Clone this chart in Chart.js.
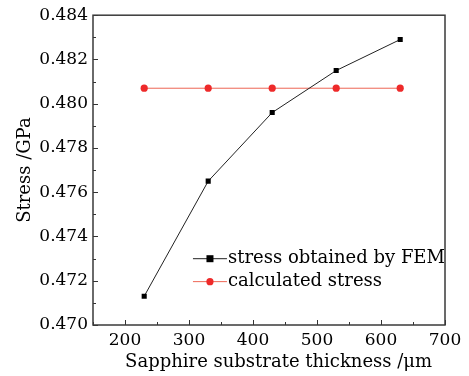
<!DOCTYPE html>
<html>
<head>
<meta charset="utf-8">
<script src="https://cdn.jsdelivr.net/npm/chart.js@4"></script>
<style>
  html, body { margin: 0; padding: 0; background: #fff; }
  #wrap { width: 469px; height: 376px; }
</style>
</head>
<body>
<div id="wrap"><canvas id="c" width="469" height="376"></canvas></div>
<script>
// --- DATA ---
const thickness = [230, 330, 430, 530, 630];
const femStress = [0.4713, 0.4765, 0.4796, 0.4815, 0.4829];
const calcStress = [0.4807, 0.4807, 0.4807, 0.4807, 0.4807];
const xTicks = [200, 300, 400, 500, 600, 700];
const yTicks = [0.470, 0.472, 0.474, 0.476, 0.478, 0.480, 0.482, 0.484];
const legendLabels = ['stress obtained by FEM', 'calculated stress'];
const xTitle = 'Sapphire substrate thickness /μm';

const FONT = '"DejaVu Serif", "Liberation Serif", serif';

// frame, inward ticks, x title and inner legend
const decor = {
  id: 'decor',
  afterDraw(chart) {
    const { ctx, chartArea: a, scales } = chart;
    const x = scales.x, y = scales.y;
    ctx.save();
    ctx.strokeStyle = '#333';
    ctx.lineWidth = 1;
    // major + minor ticks
    for (let v = 150; v <= 700; v += 50) {
      const px = Math.round(x.getPixelForValue(v)) + 0.5;
      const len = v % 100 === 0 ? 5 : 3;
      ctx.beginPath(); ctx.moveTo(px, a.bottom); ctx.lineTo(px, a.bottom - len); ctx.stroke();
    }
    for (let i = 0; i <= 14; i++) {
      const v = 0.470 + i * 0.001;
      const py = Math.round(y.getPixelForValue(v)) + 0.5;
      const len = i % 2 === 0 ? 5 : 3;
      ctx.beginPath(); ctx.moveTo(a.left, py); ctx.lineTo(a.left + len, py); ctx.stroke();
    }
    ctx.lineWidth = 1.5;
    ctx.strokeStyle = '#3a3a3a';
    ctx.strokeRect(a.left, a.top, a.right - a.left, a.bottom - a.top);

    // x axis title (sits a little right of the plot centre in the original)
    ctx.fillStyle = '#000';
    ctx.font = '18px ' + FONT;
    ctx.textAlign = 'center';
    ctx.textBaseline = 'middle';
    ctx.fillText(xTitle, x.getPixelForValue(440), a.bottom + 37);

    // legend
    ctx.textAlign = 'left';
    const lx = a.left + (a.right - a.left) * 0.284;
    const rows = [a.top + (a.bottom - a.top) * 0.786, a.top + (a.bottom - a.top) * 0.86];
    chart.data.datasets.forEach((ds, i) => {
      const yy = rows[i];
      ctx.strokeStyle = ds.borderColor;
      ctx.lineWidth = 1;
      ctx.beginPath(); ctx.moveTo(lx, yy); ctx.lineTo(lx + 34, yy); ctx.stroke();
      ctx.fillStyle = ds.pointBackgroundColor;
      if (ds.pointStyle === 'rect') {
        ctx.fillRect(lx + 13.5, yy - 3.5, 7, 7);
      } else {
        ctx.beginPath(); ctx.arc(lx + 17, yy, 3.6, 0, Math.PI * 2); ctx.fill();
      }
      ctx.fillStyle = '#000';
      ctx.font = '18px ' + FONT;
      ctx.fillText(legendLabels[i], lx + 35, yy);
    });
    ctx.restore();
  }
};

new Chart(document.getElementById('c'), {
  type: 'line',
  data: {
    datasets: [
      {
        label: legendLabels[0],
        data: thickness.map((t, i) => ({ x: t, y: femStress[i] })),
        borderColor: '#222', borderWidth: 1,
        pointStyle: 'rect', pointRadius: 3.6,
        pointBackgroundColor: '#000', pointBorderColor: '#000', pointBorderWidth: 0
      },
      {
        label: legendLabels[1],
        data: thickness.map((t, i) => ({ x: t, y: calcStress[i] })),
        borderColor: '#ee6655', borderWidth: 1,
        pointStyle: 'circle', pointRadius: 3.6,
        pointBackgroundColor: '#ee2a2a', pointBorderColor: '#ee2a2a', pointBorderWidth: 0
      }
    ]
  },
  options: {
    responsive: false,
    animation: false,
    layout: { padding: { top: 11, right: 24, left: 0, bottom: 0 } },
    plugins: { legend: { display: false }, tooltip: { enabled: false } },
    scales: {
      x: {
        type: 'linear', min: 150, max: 700,
        afterBuildTicks: s => { s.ticks = xTicks.map(v => ({ value: v })); },
        afterFit: s => { s.height = 51; },
        grid: { display: false, drawTicks: false },
        border: { display: false },
        ticks: { color: '#000', padding: 5, maxRotation: 0, font: { family: FONT, size: 17 } },
        title: { display: false }
      },
      y: {
        type: 'linear', min: 0.470, max: 0.484,
        afterBuildTicks: s => { s.ticks = yTicks.map(v => ({ value: v })); },
        afterFit: s => { s.width = 93; },
        grid: { display: false, drawTicks: false },
        border: { display: false },
        ticks: { color: '#000', padding: 5, callback: v => v.toFixed(3), font: { family: FONT, size: 17 } },
        title: { display: true, text: 'Stress /GPa', color: '#000', padding: { top: 15, bottom: 0 }, font: { family: FONT, size: 18 } }
      }
    }
  },
  plugins: [decor]
});
</script>
</body>
</html>
